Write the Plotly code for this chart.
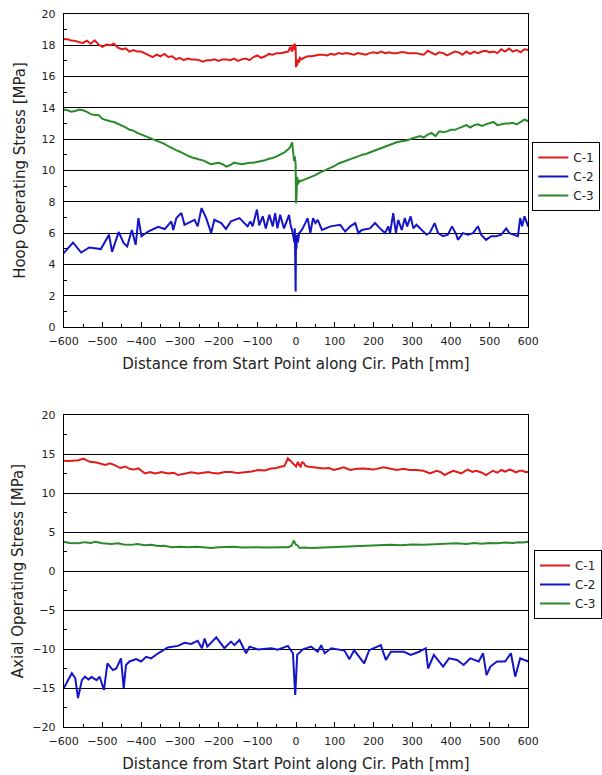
import plotly.graph_objects as go

# ---------------- Hoop operating stress (top panel) ----------------
hoop_c1_x = list(range(-600, -10, 10)) + [-15, -10, -8, -5, -3, -1, 0, 1, 3, 5, 8, 10, 15] + list(range(20, 610, 10))
hoop_c1_y = [
    18.40, 18.38, 18.30, 18.28, 18.20, 18.15, 18.30, 18.10, 18.32, 18.05,
    17.90, 18.05, 18.00, 18.10, 17.85, 17.75, 17.80, 17.60, 17.70, 17.60,
    17.60, 17.50, 17.35, 17.25, 17.40, 17.30, 17.45, 17.25, 17.30, 17.10,
    17.20, 17.05, 17.15, 17.10, 17.10, 17.05, 16.95, 17.05, 17.05, 17.10,
    17.00, 17.10, 17.10, 17.05, 17.15, 17.00, 17.10, 17.15, 17.05, 17.25,
    17.35, 17.20, 17.30, 17.45, 17.40, 17.50, 17.50, 17.55, 17.60,
    17.90, 17.60, 18.05, 17.70, 18.10, 17.90, 16.60, 17.00, 16.70, 17.10, 16.90, 17.20, 17.10,
    17.20, 17.30, 17.30, 17.35, 17.40, 17.40, 17.35, 17.45, 17.40, 17.50,
    17.45, 17.50, 17.45, 17.40, 17.50, 17.45, 17.40, 17.50, 17.55, 17.50,
    17.60, 17.50, 17.55, 17.50, 17.50, 17.55, 17.55, 17.50, 17.50, 17.50,
    17.45, 17.40, 17.65, 17.50, 17.40, 17.55, 17.50, 17.35, 17.45, 17.60,
    17.55, 17.40, 17.60, 17.45, 17.60, 17.50, 17.60, 17.65, 17.55, 17.60,
    17.50, 17.75, 17.60, 17.80, 17.60, 17.70, 17.55, 17.75, 17.70,
]

hoop_c3_x = hoop_c1_x
hoop_c3_y = [
    13.90, 13.85, 13.75, 13.80, 13.90, 13.85, 13.75, 13.60, 13.55, 13.55,
    13.30, 13.20, 13.15, 13.10, 13.00, 12.90, 12.75, 12.60, 12.55, 12.40,
    12.30, 12.20, 12.10, 12.05, 11.90, 11.85, 11.70, 11.55, 11.40, 11.30,
    11.20, 11.05, 10.95, 10.85, 10.75, 10.70, 10.65, 10.50, 10.40, 10.45,
    10.50, 10.40, 10.25, 10.35, 10.50, 10.45, 10.40, 10.45, 10.50, 10.50,
    10.55, 10.60, 10.65, 10.75, 10.80, 10.90, 11.00, 11.15, 11.35,
    11.50, 11.80, 11.20, 10.60, 10.90, 10.40, 7.90, 8.20, 9.60, 9.10, 9.40, 9.30, 9.35,
    9.40, 9.50, 9.60, 9.70, 9.85, 9.95, 10.10, 10.20, 10.30, 10.45,
    10.55, 10.65, 10.75, 10.80, 10.90, 11.00, 11.05, 11.15, 11.25, 11.35,
    11.45, 11.55, 11.65, 11.70, 11.80, 11.85, 11.90, 11.95, 12.05, 12.15,
    12.20, 12.10, 12.30, 12.40, 12.20, 12.50, 12.45, 12.50, 12.60, 12.60,
    12.70, 12.75, 12.90, 12.75, 12.90, 12.95, 12.85, 12.95, 13.05, 13.10,
    12.90, 12.95, 13.00, 13.00, 13.05, 12.95, 13.10, 13.25, 13.15,
]

hoop_c2_x = [
    -600, -576, -555, -534, -504, -483, -475, -458, -445, -436,
    -424, -414, -407, -399, -382, -356, -339, -322, -317, -309,
    -296, -288, -279, -262, -254, -244, -232, -219, -211, -193,
    -181, -168, -146, -125, -118, -112, -101, -95, -86, -78,
    -69, -60, -54, -48, -41, -31, -18, -14, -10, -4,
    -3, -2, -1, 0, 1, 3, 5, 8, 11, 15,
    24, 30, 37, 44, 50, 56, 67, 89, 114, 127,
    140, 153, 161, 170, 191, 204, 217, 230, 238, 243,
    251, 258, 264, 273, 281, 287, 296, 303, 311, 324,
    337, 345, 358, 367, 380, 392, 403, 414, 418, 431,
    444, 457, 470, 478, 491, 504, 517, 530, 543, 551,
    560, 573, 579, 584, 590, 600,
]
hoop_c2_y = [
    4.72, 5.40, 4.76, 5.08, 4.98, 5.90, 4.80, 6.07, 5.36, 5.15,
    6.20, 5.25, 6.96, 5.80, 6.10, 6.40, 6.26, 6.75, 6.20, 6.96,
    7.28, 6.53, 6.64, 6.85, 6.43, 7.60, 6.96, 6.00, 6.85, 6.64,
    6.26, 6.75, 6.96, 6.43, 6.75, 6.43, 7.50, 6.50, 7.07, 6.30,
    7.17, 6.43, 7.28, 6.30, 7.17, 6.30, 7.17, 6.50, 6.20, 5.40,
    6.30, 5.00, 2.27, 5.80, 5.00, 5.90, 5.40, 6.00, 6.10, 6.20,
    6.64, 6.96, 6.00, 6.96, 6.64, 6.85, 6.20, 6.43, 6.53, 6.10,
    6.43, 6.64, 6.00, 6.20, 6.30, 6.64, 6.30, 6.00, 6.43, 6.00,
    7.28, 6.00, 6.85, 6.20, 6.96, 6.43, 7.07, 6.30, 6.53, 6.20,
    5.90, 6.00, 6.64, 6.00, 5.80, 5.90, 6.43, 5.90, 5.57, 6.00,
    5.90, 6.00, 6.43, 5.90, 5.57, 5.80, 5.80, 5.90, 6.30, 6.00,
    5.90, 5.80, 6.96, 6.43, 7.07, 6.40,
]

# ---------------- Axial operating stress (bottom panel) ----------------
axial_c1_x = [
    -600, -585, -562, -549, -532, -515, -493, -480, -466, -454,
    -441, -430, -420, -407, -390, -377, -364, -347, -330, -316,
    -304, -287, -270, -253, -240, -227, -214, -201, -184, -167,
    -150, -133, -115, -98, -81, -64, -50, -38, -30, -21,
    -16, -12, -6, 0, 5, 8, 12, 15, 19, 24,
    29, 50, 72, 85, 98, 110, 123, 140, 157, 174,
    200, 226, 243, 260, 277, 294, 311, 329, 346, 363,
    373, 384, 395, 406, 416, 427, 436, 444, 455, 466,
    480, 491, 500, 508, 520, 530, 540, 551, 560, 568,
    577, 585, 592, 600,
]
axial_c1_y = [
    14.15, 14.10, 14.20, 14.40, 14.00, 13.90, 13.60, 13.80, 13.50, 13.20,
    13.40, 13.10, 13.00, 13.15, 12.50, 12.70, 12.50, 12.70, 12.50, 12.60,
    12.30, 12.50, 12.65, 12.50, 12.60, 12.70, 12.55, 12.50, 12.70, 12.70,
    12.55, 12.65, 12.75, 12.95, 12.90, 13.15, 13.20, 13.40, 13.45, 14.45,
    14.20, 14.00, 13.80, 13.40, 14.00, 13.60, 13.40, 13.90, 13.90, 13.50,
    13.40, 13.30, 13.15, 13.20, 12.95, 13.10, 13.30, 12.95, 13.10, 13.15,
    13.00, 13.30, 13.10, 12.95, 13.10, 12.95, 12.95, 12.85, 12.50, 12.85,
    12.70, 12.30, 12.60, 12.85, 12.70, 12.50, 12.80, 13.00, 12.70, 12.85,
    12.60, 12.30, 12.60, 12.85, 12.60, 12.95, 12.75, 13.00, 12.85, 12.65,
    12.85, 12.85, 12.70, 12.70,
]

axial_c3_x = [
    -600, -585, -562, -545, -530, -519, -500, -476, -460, -445,
    -425, -410, -390, -375, -356, -340, -321, -300, -280, -260,
    -240, -220, -200, -184, -160, -140, -120, -98, -80, -60,
    -40, -21, -12, -6, -3, 0, 4, 9, 20, 40,
    72, 100, 130, 158, 190, 215, 243, 270, 300, 329,
    350, 370, 390, 414, 440, 460, 480, 500, 520, 540,
    560, 575, 585, 600,
]
axial_c3_y = [
    3.75, 3.60, 3.55, 3.70, 3.60, 3.75, 3.55, 3.45, 3.55, 3.40,
    3.35, 3.45, 3.30, 3.35, 3.20, 3.25, 3.05, 3.10, 3.05, 3.10,
    3.05, 2.95, 3.05, 3.05, 3.10, 3.00, 3.05, 3.05, 3.00, 3.05,
    3.05, 3.05, 3.20, 3.90, 3.50, 3.35, 3.30, 2.95, 3.00, 2.95,
    3.00, 3.05, 3.10, 3.20, 3.20, 3.30, 3.35, 3.30, 3.40, 3.35,
    3.40, 3.45, 3.50, 3.55, 3.45, 3.60, 3.50, 3.60, 3.55, 3.65,
    3.60, 3.70, 3.65, 3.75,
]

axial_c2_x = [
    -600, -579, -570, -563, -553, -545, -536, -528, -515, -507,
    -496, -487, -473, -464, -452, -445, -439, -430, -413, -400,
    -387, -374, -356, -331, -305, -288, -271, -254, -243, -236,
    -229, -206, -185, -168, -159, -146, -129, -120, -98, -64,
    -47, -21, -8, -2, 3, 18, 39, 56, 65, 74,
    91, 125, 138, 150, 176, 189, 219, 232, 245, 279,
    296, 318, 335, 341, 356, 380, 395, 416, 433, 450,
    472, 483, 492, 502, 519, 540, 555, 566, 579, 600,
]
axial_c2_y = [
    -15.05, -13.10, -13.75, -16.30, -14.00, -13.55, -13.90, -13.60, -14.00, -13.55,
    -15.25, -11.85, -12.70, -12.50, -11.20, -15.05, -12.05, -11.60, -11.30, -11.60,
    -11.00, -11.20, -10.55, -9.80, -9.60, -9.20, -9.35, -8.95, -9.90, -8.65,
    -9.70, -8.50, -9.90, -9.05, -9.50, -8.85, -10.55, -9.70, -10.05, -9.90,
    -10.10, -9.60, -10.55, -15.90, -10.75, -10.05, -9.70, -10.35, -9.50, -10.55,
    -9.90, -10.20, -11.30, -10.15, -11.85, -10.15, -9.50, -11.40, -10.35, -10.35,
    -10.75, -10.35, -9.90, -12.50, -10.75, -12.25, -11.20, -11.40, -12.05, -11.20,
    -11.60, -10.55, -13.35, -12.25, -11.60, -11.60, -10.55, -13.55, -11.20, -11.60,
]

series_names = ["C-1", "C-2", "C-3"]
colors = {"C-1": "#e31a1a", "C-2": "#1414c8", "C-3": "#2a8a2a"}

for a, b in [(hoop_c1_x, hoop_c1_y), (hoop_c3_x, hoop_c3_y), (hoop_c2_x, hoop_c2_y),
             (axial_c1_x, axial_c1_y), (axial_c3_x, axial_c3_y), (axial_c2_x, axial_c2_y)]:
    assert len(a) == len(b), (len(a), len(b))

FONT = "DejaVu Sans, Arial, sans-serif"
W, H = 602, 775

fig = go.Figure()
top = {"C-1": (hoop_c1_x, hoop_c1_y), "C-2": (hoop_c2_x, hoop_c2_y), "C-3": (hoop_c3_x, hoop_c3_y)}
bot = {"C-1": (axial_c1_x, axial_c1_y), "C-2": (axial_c2_x, axial_c2_y), "C-3": (axial_c3_x, axial_c3_y)}
for n in series_names:
    xs, ys = top[n]
    fig.add_trace(go.Scatter(x=xs, y=ys, mode="lines", name=n, xaxis="x", yaxis="y",
                             line=dict(color=colors[n], width=2), legend="legend"))
for n in series_names:
    xs, ys = bot[n]
    fig.add_trace(go.Scatter(x=xs, y=ys, mode="lines", name=n, xaxis="x2", yaxis="y2",
                             line=dict(color=colors[n], width=2), legend="legend2"))

def xax(anchor, title):
    return dict(
        domain=[64 / W, 531 / W], anchor=anchor, range=[-600, 600],
        tickmode="linear", tick0=-600, dtick=100,
        ticks="inside", ticklen=5, tickcolor="black", tickwidth=1,
        minor=dict(ticks="inside", ticklen=3, tick0=-600, dtick=50, tickcolor="black", showgrid=False),
        showline=True, linecolor="black", linewidth=1, mirror=True,
        showgrid=False, zeroline=False,
        ticklabelstandoff=4,
        tickfont=dict(family=FONT, size=11, color="#222"),
        title=dict(text=title, font=dict(family=FONT, size=15, color="#222"), standoff=11),
        automargin=False,
    )

def yax(anchor, dom, rng, dtick, title, standoff):
    return dict(
        domain=dom, anchor=anchor, range=rng,
        tickmode="linear", tick0=rng[0], dtick=dtick,
        ticks="inside", ticklen=5, tickcolor="black", tickwidth=1,
        minor=dict(ticks="inside", ticklen=3, tick0=rng[0], dtick=dtick / 2, tickcolor="black", showgrid=False),
        showline=True, linecolor="black", linewidth=1, mirror=True,
        showgrid=True, gridcolor="black", gridwidth=1, zeroline=False,
        ticklabelstandoff=5,
        tickfont=dict(family=FONT, size=11, color="#222"),
        title=dict(text=title, font=dict(family=FONT, size=15, color="#222"), standoff=standoff),
        automargin=False,
    )

legend_style = dict(
    bgcolor="white", bordercolor="black", borderwidth=1,
    font=dict(family=FONT, size=12, color="#222"),
    xanchor="left", yanchor="top", tracegroupgap=0, itemwidth=30,
)

fig.update_layout(
    width=W, height=H, margin=dict(l=0, r=0, t=0, b=0),
    paper_bgcolor="white", plot_bgcolor="white",
    xaxis=xax("y", "Distance from Start Point along Cir. Path [mm]"),
    yaxis=yax("x", [1 - 327 / H, 1 - 14 / H], [0, 20], 2, "Hoop Operating Stress [MPa]", 12),
    xaxis2=xax("y2", "Distance from Start Point along Cir. Path [mm]"),
    yaxis2=yax("x2", [1 - 727 / H, 1 - 415 / H], [-20, 20], 5, "Axial Operating Stress [MPa]", 5),
    legend=dict(x=535 / W, y=1 - 142 / H, **legend_style),
    legend2=dict(x=537 / W, y=1 - 550 / H, **legend_style),
    showlegend=True,
)

fig.write_html("out.html")
